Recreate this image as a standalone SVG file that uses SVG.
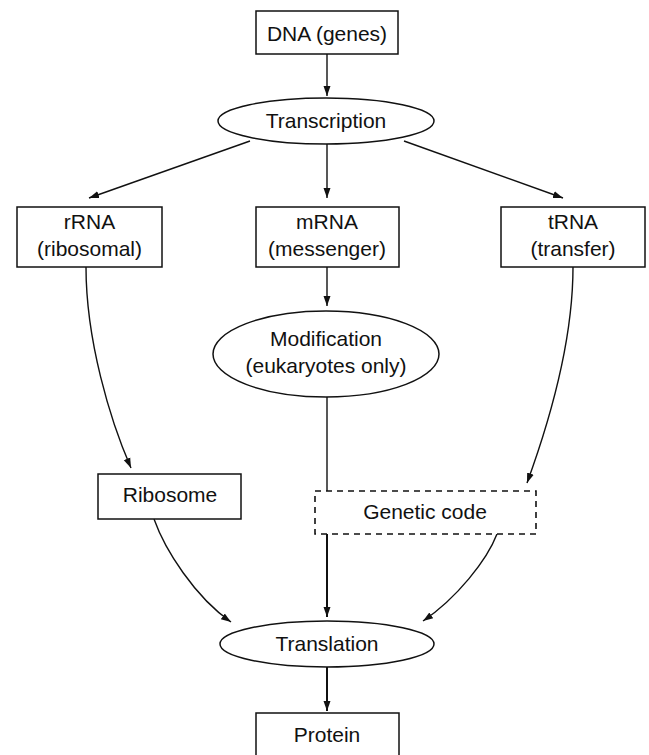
<svg xmlns="http://www.w3.org/2000/svg" width="649" height="755" viewBox="0 0 649 755">
  <style>
    .box { fill: #fff; stroke: #111; stroke-width: 1.5; }
    .dash { fill: #fff; stroke: #111; stroke-width: 1.6; stroke-dasharray: 6 5; }
    .lbl { font-family: "Liberation Sans", Arial, sans-serif; font-size: 21px; fill: #111; text-anchor: middle; }
    .edge { fill: none; stroke: #111; stroke-width: 1.4; }
    .thick { stroke-width: 2; }
  </style>
  <defs>
    <marker id="arrow" viewBox="0 0 10 10" refX="10" refY="5" markerWidth="10" markerHeight="10" markerUnits="userSpaceOnUse" orient="auto">
      <path d="M0,1.5 L10,5 L0,8.5 Z" fill="#111"/>
    </marker>
  </defs>

  <rect width="649" height="755" fill="#fff"/>

  <!-- connectors -->
  <g id="connectors">
    <line class="edge" x1="327" y1="54" x2="327" y2="96" marker-end="url(#arrow)"/>
    <line class="edge" x1="250" y1="141" x2="89" y2="198" marker-end="url(#arrow)"/>
    <line class="edge" x1="327" y1="144" x2="327" y2="198" marker-end="url(#arrow)"/>
    <line class="edge" x1="404" y1="141" x2="563" y2="198" marker-end="url(#arrow)"/>
    <line class="edge" x1="327" y1="267" x2="327" y2="306" marker-end="url(#arrow)"/>
    <path class="edge" d="M86,267 C86,340 110,420 131,468" marker-end="url(#arrow)"/>
    <path class="edge" d="M573,267 C573,340 550,420 527,483" marker-end="url(#arrow)"/>
    <line class="edge" x1="327" y1="397" x2="327" y2="491"/>
    <line class="edge thick" x1="327" y1="534" x2="327" y2="617" marker-end="url(#arrow)"/>
    <path class="edge" d="M154,519 C165,550 195,597 231,622" marker-end="url(#arrow)"/>
    <path class="edge" d="M497,534 C487,560 457,598 423,621" marker-end="url(#arrow)"/>
    <line class="edge thick" x1="327" y1="667" x2="327" y2="711" marker-end="url(#arrow)"/>
  </g>

  <g id="dna">
    <rect class="box" x="256" y="11" width="142" height="43"/>
    <text class="lbl" x="327" y="41">DNA (genes)</text>
  </g>

  <g id="transcription">
    <ellipse class="box" cx="326" cy="121" rx="108" ry="23"/>
    <text class="lbl" x="326" y="128">Transcription</text>
  </g>

  <g id="rrna">
    <rect class="box" x="17" y="207" width="145" height="60"/>
    <text class="lbl" x="89.5" y="229">rRNA</text>
    <text class="lbl" x="89.5" y="256">(ribosomal)</text>
  </g>

  <g id="mrna">
    <rect class="box" x="256" y="207" width="143" height="60"/>
    <text class="lbl" x="327" y="229">mRNA</text>
    <text class="lbl" x="327" y="256">(messenger)</text>
  </g>

  <g id="trna">
    <rect class="box" x="501" y="207" width="144" height="60"/>
    <text class="lbl" x="573" y="229">tRNA</text>
    <text class="lbl" x="573" y="256">(transfer)</text>
  </g>

  <g id="modification">
    <ellipse class="box" cx="326" cy="354" rx="113" ry="43"/>
    <text class="lbl" x="326" y="346">Modification</text>
    <text class="lbl" x="326" y="373">(eukaryotes only)</text>
  </g>

  <g id="ribosome">
    <rect class="box" x="98" y="474" width="143" height="45"/>
    <text class="lbl" x="170" y="502">Ribosome</text>
  </g>

  <g id="genetic-code">
    <rect class="dash" x="315" y="491" width="221" height="43"/>
    <text class="lbl" x="425" y="519">Genetic code</text>
  </g>

  <g id="translation">
    <ellipse class="box" cx="327" cy="644" rx="107" ry="23"/>
    <text class="lbl" x="327" y="651">Translation</text>
  </g>

  <g id="protein">
    <rect class="box" x="256" y="713" width="143" height="44"/>
    <text class="lbl" x="327" y="742">Protein</text>
  </g>
</svg>
